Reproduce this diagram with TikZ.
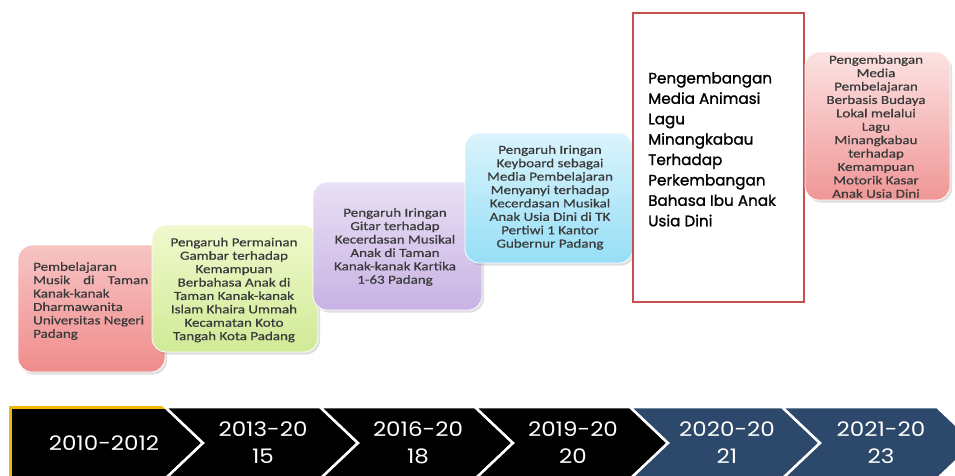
\documentclass[tikz,border=0pt]{standalone}
\usepackage{fontspec}
\setmainfont{Carlito}
\newfontfamily\cardfont[FakeStretch=1.22,FakeBold=0.6]{Carlito}
\newfontfamily\popfont[FakeBold=1.2]{Poppins}
\newfontfamily\yearfont[FakeStretch=1.15]{Poppins}
\usetikzlibrary{shadows}
\definecolor{txtgrey}{HTML}{3A3A3A}
\definecolor{navy}{RGB}{44,72,106}
\definecolor{gold}{HTML}{F2B705}
\definecolor{redframe}{HTML}{C4504F}
\begin{document}
\begin{tikzpicture}[x=1pt,y=-1pt,
  card/.style={rounded corners=14pt, draw=white, line width=0.8pt,
    drop shadow={opacity=0.25,shadow xshift=2pt,shadow yshift=-2.5pt}},
  cardtext/.style={text=txtgrey, font=\cardfont\fontsize{12.3}{13.4}\selectfont, align=center, inner sep=0pt},
  chev/.style={draw=white, line width=2.5pt, line join=miter},
  yeartext/.style={text=white, font=\yearfont\fontsize{20}{27}\selectfont, align=center, inner sep=0pt}]
\useasboundingbox (0,0) rectangle (955,475);
\clip (0,0) rectangle (955,475);
\fill[white] (0,0) rectangle (955,475);

% cards
\node[card, minimum width=147pt, minimum height=127pt, top color={rgb,255:red,247;green,196;blue,196}, bottom color={rgb,255:red,240;green,140;blue,140}] (b1) at (91.5,308.5) {};
\node[cardtext, align=left, anchor=north west] (t1) at (33,262) {Pembelajaran\\\hbox to 115pt{Musik\hfill di\hfill Taman}\\Kanak-kanak\\Dharmawanita\\Universitas Negeri\\Padang};

\node[card, minimum width=166pt, minimum height=127pt, top color={rgb,255:red,240;green,249;blue,205}, bottom color={rgb,255:red,208;green,234;blue,150}] (b2) at (235,288.5) {};
\node[cardtext] (t2) at (234,290) {Pengaruh Permainan\\Gambar terhadap\\Kemampuan\\Berbahasa Anak di\\Taman Kanak-kanak\\Islam Khaira Ummah\\Kecamatan Koto\\Tangah Kota Padang};

\node[card, minimum width=169pt, minimum height=128pt, top color={rgb,255:red,232;green,224;blue,244}, bottom color={rgb,255:red,200;green,178;blue,228}] (b3) at (397.5,246) {};
\node[cardtext] (t3) at (395,247) {Pengaruh Iringan\\Gitar terhadap\\Kecerdasan Musikal\\Anak di Taman\\Kanak-kanak Kartika\\1-63 Padang};

\node[card, minimum width=168pt, minimum height=130pt, top color={rgb,255:red,218;green,244;blue,252}, bottom color={rgb,255:red,150;green,222;blue,246}] (b4) at (549,198) {};
\node[cardtext] (t4) at (550,197.5) {Pengaruh Iringan\\Keyboard sebagai\\Media Pembelajaran\\Menyanyi terhadap\\Kecerdasan Musikal\\Anak Usia Dini di TK\\Pertiwi 1 Kantor\\Gubernur Padang};

\node[draw=redframe, line width=2.8pt, fill=white, minimum width=171pt, minimum height=289pt, inner sep=0pt] (b5) at (718.5,157.5) {};
\node[text=black, font=\popfont\fontsize{15.2}{20.4}\selectfont, align=left, anchor=north west, inner sep=0pt] (t5) at (648,72) {Pengembangan\\Media Animasi\\Lagu\\Minangkabau\\Terhadap\\Perkembangan\\Bahasa Ibu Anak\\Usia Dini};

\node[card, minimum width=145pt, minimum height=148pt, top color={rgb,255:red,252;green,226;blue,226}, bottom color={rgb,255:red,240;green,150;blue,150}] (b6) at (877.5,126) {};
\node[cardtext] (t6) at (876,126.5) {Pengembangan\\Media\\Pembelajaran\\Berbasis Budaya\\Lokal melalui\\Lagu\\Minangkabau\\terhadap\\Kemampuan\\Motorik Kasar\\Anak Usia Dini};

% chevrons
\fill[black, chev] (10,407) -- (165,407) -- (203,443) -- (165,479) -- (10,479) -- cycle;
\draw[gold, line width=3pt] (10,482) -- (10,407.5) -- (166,407.5);
\fill[black, chev] (165,407) -- (320,407) -- (358,443) -- (320,479) -- (165,479) -- (203,443) -- cycle;
\fill[black, chev] (320,407) -- (475,407) -- (513,443) -- (475,479) -- (320,479) -- (358,443) -- cycle;
\fill[black, chev] (475,407) -- (630,407) -- (668,443) -- (630,479) -- (475,479) -- (513,443) -- cycle;
\fill[navy, chev] (630,407) -- (782,407) -- (820,443) -- (782,479) -- (630,479) -- (668,443) -- cycle;
\fill[navy, chev] (782,407) -- (937,407) -- (975,443) -- (937,479) -- (782,479) -- (820,443) -- cycle;

\node[yeartext] (y1) at (104,443) {2010-2012};
\node[yeartext] (y2) at (263,443) {2013-20\\15};
\node[yeartext] (y3) at (418,443) {2016-20\\18};
\node[yeartext] (y4) at (573,443) {2019-20\\20};
\node[yeartext] (y5) at (727,443) {2020-20\\21};
\node[yeartext] (y6) at (881,443) {2021-20\\23};
\end{tikzpicture}
\end{document}
